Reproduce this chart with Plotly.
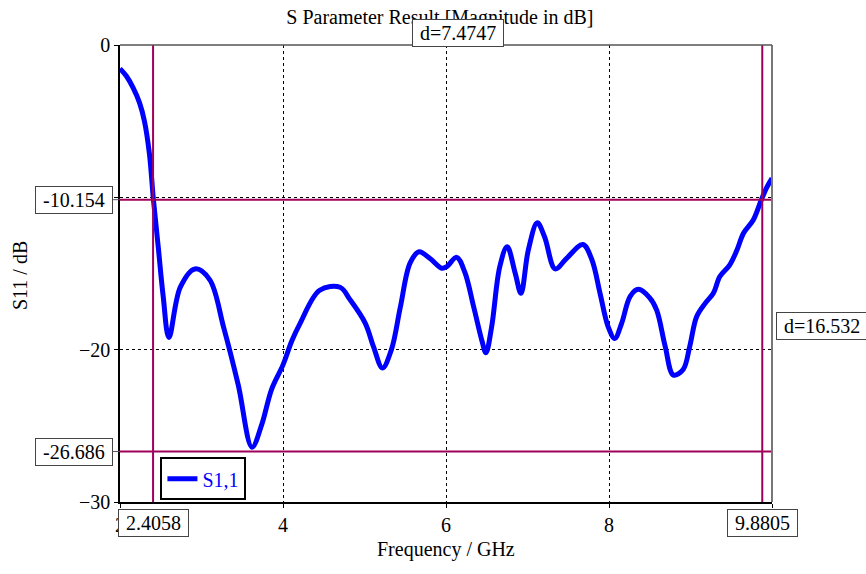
import plotly.graph_objects as go

freq_ghz = [2.00, 2.08, 2.16, 2.24, 2.30, 2.36, 2.41, 2.47, 2.53, 2.60, 2.74, 2.92, 3.10, 3.27,
            3.45, 3.62, 3.74, 3.86, 4.00, 4.11, 4.21, 4.45, 4.70, 4.82, 5.01, 5.11, 5.22, 5.33, 5.44,
            5.56, 5.67, 5.80, 5.95, 6.01, 6.13, 6.23, 6.34, 6.44, 6.49, 6.56, 6.66, 6.75, 6.85, 6.92,
            7.01, 7.12, 7.21, 7.34, 7.48, 7.68, 7.79, 7.89, 7.99, 8.07, 8.155, 8.26, 8.36, 8.50, 8.585,
            8.69, 8.79, 8.91, 8.99, 9.075, 9.18, 9.28, 9.36, 9.48, 9.57, 9.65, 9.77, 9.86, 9.93, 10.0]
s11_db = [-1.55, -2.05, -2.8, -3.8, -5.0, -7.1, -10.15, -13.3, -16.5, -19.2, -15.9, -14.7, -15.4, -18.5,
          -22.3, -26.4, -24.9, -22.6, -21.0, -19.4, -18.27, -16.1, -15.9, -16.7, -18.27, -19.8, -21.2, -20.0, -17.2,
          -14.3, -13.57, -14.0, -14.66, -14.55, -13.94, -14.9, -17.2, -19.4, -20.2, -18.5, -14.55, -13.24, -15.0, -16.3,
          -13.46, -11.67, -12.6, -14.7, -14.0, -13.1, -14.1, -16.3, -18.5, -19.26, -18.27, -16.5, -16.04, -16.6, -17.4,
          -19.8, -21.67, -21.3, -19.8, -17.84, -16.96, -16.3, -15.2, -14.45, -13.46, -12.36, -11.49, -10.29, -9.41, -8.75]

marker_x = [2.4058, 9.8805]
marker_y = [-10.154, -26.686]
x_ticks = [2, 4, 6, 8, 10]
y_ticks = [0, -10, -20, -30]

FONT = "Times New Roman, Liberation Serif, serif"
FS = 20
MK = "#A0005A"

fig = go.Figure()
fig.add_trace(go.Scatter(x=freq_ghz, y=s11_db, mode="lines", name="S1,1",
                         line=dict(color="#0000FF", width=5, shape="spline", smoothing=1.0)))

shapes = []
for mx in marker_x:
    shapes.append(dict(type="line", xref="x", yref="paper", x0=mx, x1=mx, y0=0, y1=1,
                       line=dict(color=MK, width=2)))
for my in marker_y:
    shapes.append(dict(type="line", xref="paper", yref="y", x0=0, x1=1, y0=my, y1=my,
                       line=dict(color=MK, width=2)))
    shapes.append(dict(type="line", xref="paper", yref="y", x0=-0.012, x1=0, y0=my, y1=my,
                       line=dict(color="#555555", width=1)))

annos = []
box = dict(font=dict(family=FONT, size=FS, color="black"), bgcolor="white",
           bordercolor="#444444", borderwidth=1, borderpad=2, showarrow=False)
for my in marker_y:
    annos.append(dict(text=f" {my:g} ", xref="paper", yref="y", x=-0.011, y=my,
                      xanchor="right", yanchor="middle", **box))
for mx in marker_x:
    annos.append(dict(text=f" {mx:g} ", xref="x", yref="paper", x=mx, y=-0.016,
                      xanchor="center", yanchor="top", **box))
dx = marker_x[1] - marker_x[0]
dy = marker_y[0] - marker_y[1]
annos.append(dict(text=f" d={dx:.4f} ", xref="x", yref="paper", x=(marker_x[0] + marker_x[1]) / 2,
                  y=1.026, xanchor="center", yanchor="middle", **box))
annos.append(dict(text=f" d={dy:.3f} ", xref="paper", yref="y", x=1.006,
                  y=(marker_y[0] + marker_y[1]) / 2, xanchor="left", yanchor="middle", **box))
annos.append(dict(text="S11 / dB", xref="paper", yref="paper", x=-0.153, y=0.495, textangle=-90,
                  showarrow=False, xanchor="center", yanchor="middle",
                  font=dict(family=FONT, size=FS, color="black")))
annos.append(dict(text="Frequency / GHz", xref="paper", yref="paper", x=0.5, y=-0.105,
                  showarrow=False, xanchor="center", yanchor="middle",
                  font=dict(family=FONT, size=FS, color="black")))

axis_common = dict(showline=True, linecolor="black", linewidth=1.5, mirror=False,
                   ticks="outside", ticklen=4, tickcolor="black",
                   showgrid=True, gridcolor="black", griddash="dot", gridwidth=1,
                   zeroline=False, tickfont=dict(family=FONT, size=FS, color="black"))

fig.update_layout(
    width=866, height=574,
    margin=dict(l=120, r=94, t=45, b=72),
    paper_bgcolor="white", plot_bgcolor="white",
    title=dict(text="S Parameter Result [Magnitude in dB]", x=0.508, xanchor="center",
               y=0.97, yanchor="middle", font=dict(family=FONT, size=FS, color="black")),
    xaxis=dict(range=[2, 10], tickvals=x_ticks, **axis_common),
    yaxis=dict(range=[-30, 0], tickvals=y_ticks, **axis_common),
    showlegend=True,
    legend=dict(x=0.062, y=0.098, xanchor="left", yanchor="top", bgcolor="white",
                bordercolor="black", borderwidth=2,
                font=dict(family=FONT, size=FS, color="#0000FF")),
    shapes=shapes + [
        dict(type="line", xref="paper", yref="paper", x0=1, x1=1, y0=0, y1=1,
             line=dict(color="#777777", width=2)),
        dict(type="line", xref="paper", yref="paper", x0=0, x1=1, y0=1, y1=1,
             line=dict(color="#555555", width=1.5)),
    ],
    annotations=annos,
)

fig.write_html("out.html")
